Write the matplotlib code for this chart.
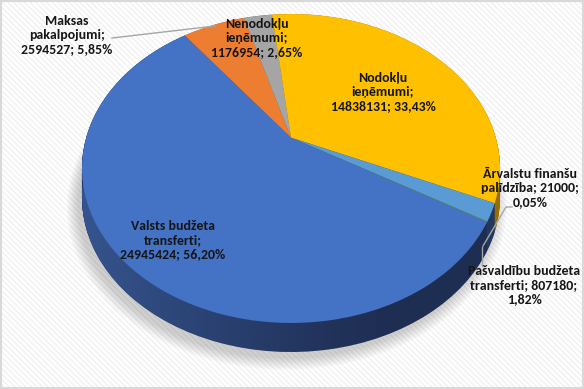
import matplotlib
matplotlib.use("Agg")
import matplotlib.pyplot as plt
import matplotlib.transforms as mtransforms
from matplotlib.patches import Rectangle, Ellipse
from matplotlib.colors import to_rgb
import numpy as np

# ---- data ----
categories = ["Valsts budžeta transferti", "Maksas pakalpojumi", "Nenodokļu ieņēmumi",
              "Nodokļu ieņēmumi", "Pašvaldību budžeta transferti", "Ārvalstu finanšu palīdzība"]
values = [24945424, 2594527, 1176954, 14838131, 807180, 21000]
label_texts = [
    "Valsts budžeta\ntransferti;\n24945424; 56,20%",
    "Maksas\npakalpojumi;\n2594527; 5,85%",
    "Nenodokļu\nieņēmumi;\n1176954; 2,65%",
    "Nodokļu\nieņēmumi;\n14838131; 33,43%",
    "Pašvaldību budžeta\ntransferti; 807180;\n1,82%",
    "Ārvalstu finanšu\npalīdzība; 21000;\n0,05%",
]
top_colors = ["#4472C4", "#ED7D31", "#A5A5A5", "#FFC000", "#5B9BD5", "#70AD47"]
side_colors = ["#1e2d52", "#8a4a1d", "#606060", "#946f00", "#22385e", "#3f6428"]

W, H = 584, 389
# perspective parameters of the 3-D pie (pixel units)
K = 0.2
X0, Y0 = 291.0, 137.6
A, B = 204.8, 148.3
DEPTH = 29
START = -30.7


class Persp(mtransforms.Transform):
    input_dims = output_dims = 2
    is_separable = False
    has_inverse = False

    def __init__(self, dy=0.0):
        super().__init__()
        self.dy = dy

    def transform_non_affine(self, values):
        values = np.asarray(values, dtype=float)
        u, v = values[:, 0], values[:, 1]
        den = 1 + K * v
        x = X0 + A * u / den
        y = Y0 - B * v / den + self.dy
        return np.column_stack([x, -y])


plt.rcParams['font.family'] = ['Carlito', 'DejaVu Sans']
fig = plt.figure(figsize=(W / 100, H / 100), dpi=100)
fig.patch.set_facecolor("white")
ax = fig.add_axes([0, 0, 1, 1])
ax.set_axis_off()


def P(px, py):
    return (px, -py)


plt.rcParams['hatch.linewidth'] = 1.0
bg = Rectangle((0, -H), W, H, facecolor="white", edgecolor="#f1f1f1",
               hatch="\\\\\\\\\\\\", linewidth=0, zorder=0)
ax.add_patch(bg)

# soft shadow under the pie
for i in range(8):
    sc = 1.05 - i * 0.007
    e = Ellipse((-0.02, 0), 2 * sc, 2 * sc, facecolor="#000000", alpha=0.025,
                linewidth=0, zorder=1, transform=Persp(DEPTH + 6) + ax.transData)
    ax.add_patch(e)

# side walls: stacked layers
N = 40
for k in range(N + 1):
    d = DEPTH * (1 - k / N)
    ws, _ = ax.pie(values, colors=side_colors, startangle=START, counterclock=False,
                   radius=1, center=(0, 0), wedgeprops=dict(linewidth=0), frame=False)
    for w in ws:
        w.set_transform(Persp(d) + ax.transData)
        w.set_zorder(2)

# horizontal light gradient on the side wall
grad = np.zeros((2, 256, 4))
grad[..., :3] = to_rgb("#3a5c9a")
xs = np.linspace(0, 1, 256)
grad[..., 3] = np.clip(1 - xs / 0.75, 0, 1) ** 1.2 * 0.85
im = ax.imshow(grad, extent=(X0 - 212, X0 + 212, -360, -120),
               aspect='auto', zorder=2.5, interpolation='bilinear')
clip = Ellipse((0, 0), 2, 2, facecolor='none', transform=Persp(DEPTH) + ax.transData)
clip.set_visible(False)
ax.add_patch(clip)
im.set_clip_path(clip)

# top face
wedges, _ = ax.pie(values, colors=top_colors, startangle=START, counterclock=False,
                   radius=1, center=(0, 0), wedgeprops=dict(linewidth=0), frame=False)
for w in wedges:
    w.set_transform(Persp(0) + ax.transData)
    w.set_zorder(3)

ax.set_aspect('auto')
ax.set_xlim(0, W)
ax.set_ylim(-H, 0)

# leader lines
lc = "#a6a6a6"
ax.plot(*zip(P(112, 38), P(215, 26)), color=lc, lw=1, zorder=4)
ax.plot(*zip(P(512, 207), P(506, 207), P(483, 246)), color=lc, lw=1, zorder=4)
ax.plot(*zip(P(482, 266), P(482, 247)), color=lc, lw=1, zorder=4)

# labels
label_pos = [(173, 240), (67, 35), (257, 38), (383, 92), (524, 285), (530, 188)]
for txt, (px, py) in zip(label_texts, label_pos):
    ax.text(*P(px, py), txt, ha="center", va="center", fontsize=10,
            fontweight="bold", color="#161616", linespacing=1.2, zorder=5)

# border
ax.add_patch(Rectangle((0.5, -(H - 1.5)), W - 2, H - 2, fill=False,
                       edgecolor="#d9d9d9", linewidth=1.5, zorder=6))

fig.savefig("out.png", dpi=100)
